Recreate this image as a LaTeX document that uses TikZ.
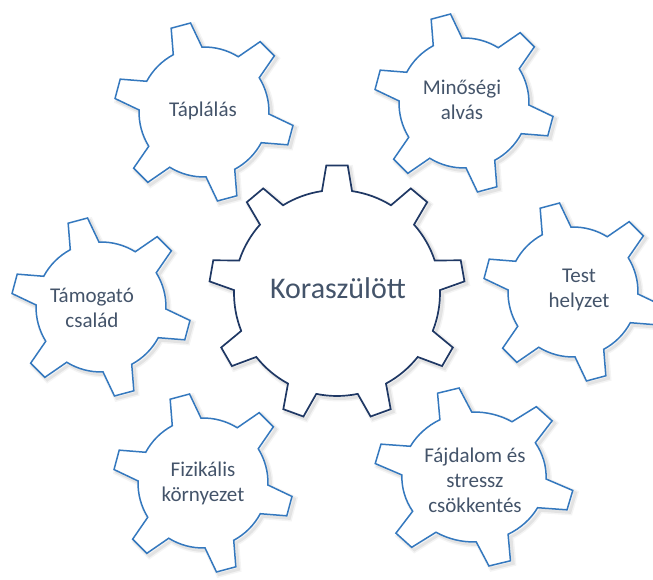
\documentclass[tikz,border=0pt]{standalone}
\usepackage{fontspec}
\setmainfont{Carlito}
\definecolor{gearblue}{RGB}{52,120,190}
\definecolor{gearnavy}{RGB}{31,56,100}
\definecolor{txtc}{RGB}{68,84,106}
\tikzset{
  smallgearline/.style={draw=gearblue, line width=1.5pt, fill=white, line join=miter},
  biggearline/.style={draw=gearnavy, line width=1.7pt, fill=white, line join=miter},
  gshadowa/.style={draw=black!60, opacity=0.07, line width=6pt},
  gshadowb/.style={draw=black!60, opacity=0.12, line width=3pt},
  gtext/.style={text=txtc, align=center, font=\fontsize{21}{25}\selectfont},
  bigtext/.style={text=txtc, align=center, font=\fontsize{30}{35}\selectfont}
}
% small gear: 6 teeth, first at 105 deg
\newcommand\smallgear[1]{%
  \draw[#1] ({105-13.2}:65pt)
    \foreach \k [evaluate=\k as \a using 105+\k*60] in {0,...,5}{
      -- ({\a-13.2}:65pt) -- ({\a-6.4}:90pt) -- ({\a+6.4}:90pt) -- ({\a+13.2}:65pt)
      arc[start angle={\a+13.2}, end angle={\a+60-13.2}, radius=65pt]
    } -- cycle;}
% big gear: 9 teeth, first at 90 deg
\newcommand\biggear[1]{%
  \draw[#1] ({90-8.4}:103pt)
    \foreach \k [evaluate=\k as \a using 90+\k*40] in {0,...,8}{
      -- ({\a-8.4}:103pt) -- ({\a-4.8}:128pt) -- ({\a+4.8}:128pt) -- ({\a+8.4}:103pt)
      arc[start angle={\a+8.4}, end angle={\a+40-8.4}, radius=103pt]
    } -- cycle;}
\newcommand\placesmall[3]{%
  \begin{scope}[shift={(#1pt,#2pt)}, xscale=#3]
    \begin{scope}[shift={(2.5pt,-2.5pt)}]\smallgear{gshadowa}\smallgear{gshadowb}\end{scope}
    \smallgear{smallgearline}
  \end{scope}}
\begin{document}
\begin{tikzpicture}[x=1pt,y=1pt]
\useasboundingbox (0,0) rectangle (653,580);
\clip (0,0) rectangle (653,580);
% small gears (image y -> 580 - y)
\placesmall{204}{468}{1}
\placesmall{464}{477}{1}
\placesmall{573}{288}{1}
\placesmall{101}{273}{1}
\placesmall{203}{97}{1}
\placesmall{474}{103}{1.11}
% central gear
\begin{scope}[shift={(337pt,287pt)}]
  \begin{scope}[shift={(2.5pt,-2.5pt)}]\biggear{gshadowa}\biggear{gshadowb}\end{scope}
  \biggear{biggearline}
\end{scope}
% texts
\node[gtext] (tap) at (203,469) {Táplálás};
\node[gtext] (min) at (462,480) {Minőségi\\alvás};
\node[gtext] (test) at (579,290) {Test\\helyzet};
\node[gtext] (tam) at (92,272) {Támogató\\család};
\node[gtext] (fiz) at (203,97) {Fizikális\\környezet};
\node[gtext] (faj) at (475,100) {Fájdalom és\\stressz\\csökkentés};
\node[bigtext] (kor) at (338,292) {Koraszülött};
\end{tikzpicture}
\end{document}
